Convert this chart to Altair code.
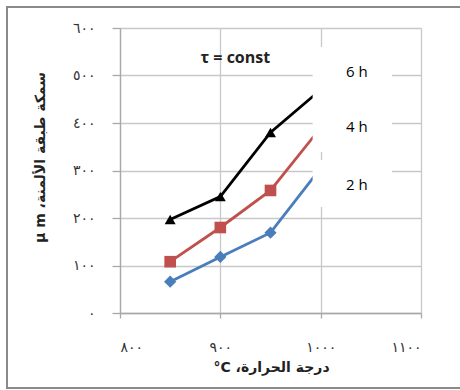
import altair as alt
import pandas as pd

# ---- data ----
temps = [850, 900, 950, 1000]
thk_2h = [66, 118, 169, 305]
thk_4h = [108, 180, 258, 390]
thk_6h = [197, 245, 380, 470]
series = ["2 h", "4 h", "6 h"]
colors = ["#4a7ebb", "#c0504d", "#000000"]
shapes = ["diamond", "square", "triangle-up"]
marker_sizes = [150, 120, 230]

x_ticks = [800, 900, 1000, 1100]
x_tick_labels = ["٨٠٠", "٩٠٠", "١٠٠٠", "١١٠٠"]
y_ticks = [0, 100, 200, 300, 400, 500, 600]
y_tick_labels = ["٠", "١٠٠", "٢٠٠", "٣٠٠", "٤٠٠", "٥٠٠", "٦٠٠"]

x_title = "\u202bدرجة الحرارة، \u2066°C\u2069\u202c"
y_title = "\u202bسمكة طبقة الألمنة، \u2066µ m\u2069\u202c"
annot_title = "τ = const"

# annotation placement (data coordinates)
label_x = [1036, 1036, 1036]
label_y = [269, 392, 507]
title_x = [915]
title_y = [537]
box_x0 = [992, 992]
box_x1 = [1071, 1071]
box_y0 = [339, 223]
box_y1 = [560, 322]


def label_expr(vals, labels):
    expr = "''"
    for v, l in reversed(list(zip(vals, labels))):
        expr = f"datum.value == {v} ? '{l}' : ({expr})"
    return expr


rows = []
for s, vals in zip(series, [thk_2h, thk_4h, thk_6h]):
    for t, v in zip(temps, vals):
        rows.append({"temp": t, "thk": v, "series": s})
df = pd.DataFrame(rows)

x_axis = alt.Axis(values=x_ticks, labelExpr=label_expr(x_ticks, x_tick_labels),
                  title=x_title, tickSize=5, labelPadding=22,
                  titleX=151, titleY=54, titleAlign="center", titleBaseline="middle",
                  grid=True)
y_axis = alt.Axis(values=y_ticks, labelExpr=label_expr(y_ticks, y_tick_labels),
                  title=y_title, tickSize=8, labelPadding=17,
                  titleX=-80, titleY=129, titleAngle=270, titleAlign="center",
                  titleBaseline="middle", grid=True)
x_scale = alt.Scale(domain=[800, 1100], nice=False, zero=False)
y_scale = alt.Scale(domain=[0, 600], nice=False)


def X(f):
    return alt.X(f"{f}:Q", scale=x_scale, axis=x_axis, title=x_title)


def Y(f):
    return alt.Y(f"{f}:Q", scale=y_scale, axis=y_axis, title=y_title)


color = alt.Color("series:N", scale=alt.Scale(domain=series, range=colors), legend=None)
shape = alt.Shape("series:N", scale=alt.Scale(domain=series, range=shapes), legend=None)
size = alt.Size("series:N", scale=alt.Scale(domain=series, range=marker_sizes), legend=None)

lines = alt.Chart(df).mark_line(strokeWidth=2.8).encode(x=X("temp"), y=Y("thk"), color=color)
points = alt.Chart(df).mark_point(filled=True, opacity=1).encode(
    x=X("temp"), y=Y("thk"), color=color, shape=shape, size=size)

boxes_df = pd.DataFrame({"x0": box_x0, "x1": box_x1, "y0": box_y0, "y1": box_y1})
boxes = alt.Chart(boxes_df).mark_rect(fill="white").encode(
    x=X("x0"), x2="x1", y=Y("y0"), y2="y1")

labels_df = pd.DataFrame({"lx": label_x, "ly": label_y, "txt": series})
labels = alt.Chart(labels_df).mark_text(font="Open Sans", fontSize=15, color="black",
                                        align="center", baseline="middle").encode(
    x=X("lx"), y=Y("ly"), text="txt:N")

ttl_df = pd.DataFrame({"tx": title_x, "ty": title_y, "txt": [annot_title]})
ttl = alt.Chart(ttl_df).mark_text(font="Open Sans", fontSize=16, fontWeight="bold",
                                  color="#222", align="center", baseline="middle").encode(
    x=X("tx"), y=Y("ty"), text="txt:N")

border = alt.Chart(alt.Data(values=[{}])).mark_rect(
    fill=None, stroke="#8a8a8a", strokeWidth=2).encode(
    x=alt.value(-113), x2=alt.value(345), y=alt.value(-21), y2=alt.value(360))

chart = alt.layer(border, lines, points, boxes, labels, ttl).properties(
    width=301, height=285, autosize="none",
    padding={"left": 120, "top": 28, "right": 39, "bottom": 77},
    background="white",
).configure_axis(
    gridColor="#c8c8c8", gridWidth=1.3, domainColor="#a8a8a8", domainWidth=1.3,
    tickColor="#a8a8a8", tickWidth=1.3,
    labelFont="DejaVu Sans", labelFontSize=14, labelColor="#333",
    titleFont="DejaVu Sans", titleFontSize=14, titleFontWeight="bold", titleColor="#222",
).configure_view(stroke=None)

chart.save("out.html", embed_options={"renderer": "svg", "actions": False})
